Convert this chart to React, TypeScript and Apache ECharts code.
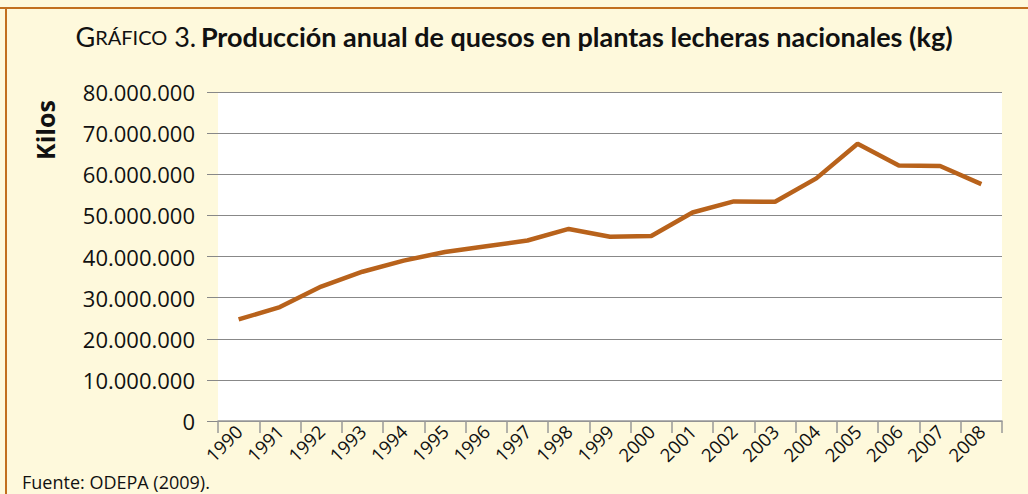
import React, { useEffect, useRef } from "react";
import * as echarts from "echarts";

const years = ["1990","1991","1992","1993","1994","1995","1996","1997","1998","1999","2000","2001","2002","2003","2004","2005","2006","2007","2008"];
const kilos = [24700000, 27700000, 32700000, 36300000, 39000000, 41100000, 42500000, 43900000, 46700000, 44800000, 45000000, 50700000, 53400000, 53300000, 59000000, 67400000, 62100000, 62000000, 57600000];
const yTicks = { min: 0, max: 80000000, interval: 10000000 };

const fmt = (v: number) => String(Math.round(v)).replace(/\B(?=(\d{3})+(?!\d))/g, ".");

export default function App() {
  const ref = useRef<HTMLDivElement>(null);
  useEffect(() => {
    if (!ref.current) return;
    const chart = echarts.init(ref.current, null, { renderer: "svg" });
    const font = "'Open Sans', sans-serif";
    chart.setOption({
      animation: false,
      backgroundColor: "#FEF9DC",
      textStyle: { fontFamily: font },
      title: {
        left: "center",
        top: 18,
        text: "{g|G}{s|RÁFICO}{n| 3.} {b|Producción anual de quesos en plantas lecheras nacionales (kg)}",
        textStyle: {
          rich: {
            g: { fontFamily: "Lato", fontSize: 27, fontWeight: "normal", color: "#111" },
            s: { fontFamily: "Lato", fontSize: 20, fontWeight: "normal", color: "#111" },
            n: { fontFamily: "Lato", fontSize: 27, fontWeight: "normal", color: "#111" },
            b: { fontFamily: "Lato", fontSize: 27, fontWeight: "bold", color: "#111" },
          },
        },
      },
      grid: {
        left: 218, right: 26, top: 92, bottom: 73,
        show: true, backgroundColor: "#FFFFFF", borderWidth: 0,
      },
      xAxis: {
        type: "category",
        data: years,
        boundaryGap: true,
        axisLine: { lineStyle: { color: "#999", width: 1.5 } },
        axisTick: { show: true, length: 12, lineStyle: { color: "#999", width: 1.5 } },
        axisLabel: { rotate: 45, margin: 7, fontSize: 18.5, color: "#111", fontFamily: font, interval: 0 },
      },
      yAxis: {
        type: "value",
        min: yTicks.min, max: yTicks.max, interval: yTicks.interval,
        axisLine: { show: false },
        axisTick: { show: true, length: 11, lineStyle: { color: "#888" } },
        splitLine: { lineStyle: { color: "#888", width: 1.2 } },
        axisLabel: { margin: 23, fontSize: 22, color: "#111", fontFamily: font, formatter: (v: number) => fmt(v) },
      },
      series: [{
        type: "line",
        data: kilos,
        symbol: "none",
        lineStyle: { color: "#B8621B", width: 4.5 },
      }],
      graphic: [
        { type: "rect", shape: { x: 0, y: 7, width: 1028, height: 2 }, style: { fill: "#C2701F" } },
        { type: "rect", shape: { x: 5, y: 7, width: 2, height: 487 }, style: { fill: "#C2701F" } },
        {
          type: "text", x: 45, y: 130, rotation: Math.PI / 2,
          style: { text: "Kilos", fontSize: 25, fontWeight: "bold", fontFamily: font, fill: "#111", align: "center", verticalAlign: "middle" },
        },
        {
          type: "text", x: 22, y: 482,
          style: { text: "Fuente: ODEPA (2009).", fontSize: 18, fontFamily: font, fill: "#111", verticalAlign: "middle" },
        },
      ],
    });
    return () => chart.dispose();
  }, []);
  return <div ref={ref} style={{ width: 1028, height: 494, position: "absolute", left: 0, top: 0 }} />;
}
